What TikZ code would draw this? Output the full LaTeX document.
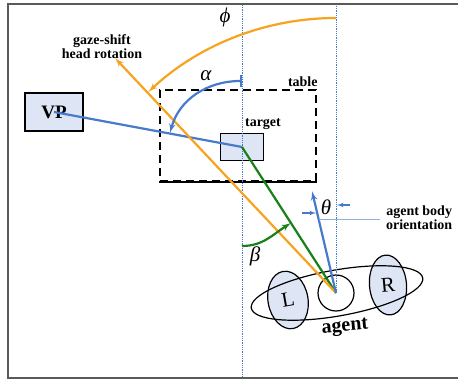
\documentclass[tikz,border=0pt]{standalone}
\usepackage{fontspec}
\setmainfont{Liberation Serif}
\usetikzlibrary{shapes,arrows,calc}
\definecolor{gazeorange}{RGB}{246,163,32}
\definecolor{bodyblue}{RGB}{72,122,204}
\definecolor{targetgreen}{RGB}{24,128,24}
\definecolor{fillblue}{RGB}{222,229,245}
\definecolor{framegray}{RGB}{90,90,90}
\tikzstyle{line} = [draw, -latex']
\tikzstyle{box} = [draw, rectangle, line width=1.3pt, fill=fillblue, inner sep=0pt]
\tikzstyle{blob} = [draw, ellipse, line width=1.2pt, inner sep=0pt]
\tikzstyle{tag} = [font=\fontsize{14}{11}\selectfont\bfseries, align=center, inner sep=0pt]
\tikzstyle{greek} = [font=\fontsize{21}{21}\selectfont\itshape, inner sep=0pt]
\tikzstyle{guide} = [draw=bodyblue, densely dotted, line width=0.8pt]

\begin{document}
\begin{tikzpicture}[x=1pt, y=1pt, line width=2.2pt]
        \useasboundingbox (0,0) rectangle (458,381);
        \draw[framegray, line width=2pt] (458,377) -- (8,377) -- (8,3) -- (458,3);
        % table and target
        \node[draw, dash pattern=on 8pt off 5pt, line width=1.4pt, minimum width=156, minimum height=91, inner sep=0pt] (table) at (238,245.5) {};
        \draw[black, line width=2pt] (table.south west) -- (table.south east);
        \node[tag, anchor=south east] at ([shift={(2,2)}]table.north east) {table};
        \node[box, minimum width=43, minimum height=27] (target) at (242,234) {};
        \node[tag, anchor=south west] at ([shift={(2,2)}]target.north) {target};
        \node[box, minimum width=58, minimum height=38, font=\fontsize{19}{19}\selectfont\bfseries] (vp) at (54,269) {VP};
        % agent
        \node[blob, fill=fillblue, minimum width=40, minimum height=58, rotate=10, font=\fontsize{21}{21}\selectfont] (lside) at (288,81) {L};
        \node[blob, fill=fillblue, minimum width=37, minimum height=60, rotate=5, font=\fontsize{21}{21}\selectfont] (rside) at (388,96) {R};
        \node[blob, minimum width=174, minimum height=46, rotate=10] (agent) at (337,88) {};
        \node[draw, circle, line width=1.2pt, minimum size=36] (head) at (336,88) {};
        \node[font=\fontsize{20}{20}\selectfont\bfseries, rotate=5] at (345,53) {agent};
        % guides
        \path[guide] (target.center |- 0,376) -- (target.center |- 0,4);
        \path[guide] (head.center) -- (head.center |- 0,376);
        % directions
        \coordinate (gaze) at (115,323);
        \coordinate (body) at (312,190);
        \draw[bodyblue] (vp.center) -- (target.center);
        \draw[targetgreen] (head.center) -- (target.center);
        \path[line, gazeorange] (head.center) -- (gaze);
        \path[line, bodyblue] (head.center) -- (body);
        \node[tag] (gazetext) at (102,334) {gaze-shift\\head rotation};
        \node[tag, anchor=west] (orient) at (385,163) {agent body\\orientation};
        \draw[bodyblue!60, line width=0.8pt] ($(head.center)!0.72!(body)$) coordinate (o1) -- ([xshift=-5pt]o1 -| orient.west);
        % angles
        \draw[gazeorange, -latex'] ([yshift=275pt]head.center) arc[start angle=90, end angle=133, radius=275];
        \draw[bodyblue, |-latex'] ([yshift=66pt]target.center) to[out=180, in=75] (170,248);
        \draw[targetgreen, -latex'] (242,135) to[out=0, in=212] (291,158);
        \path[line, bodyblue, line width=1.2pt] (302,168) -- (316,168);
        \path[line, bodyblue, line width=1.2pt] (350,176) -- (337,176);
        \node[greek] at (225,364) {ϕ};
        \node[greek] at (206,305) {α};
        \node[greek] at (255,125) {β};
        \node[greek] at (326,174) {θ};
\end{tikzpicture}
\end{document}
